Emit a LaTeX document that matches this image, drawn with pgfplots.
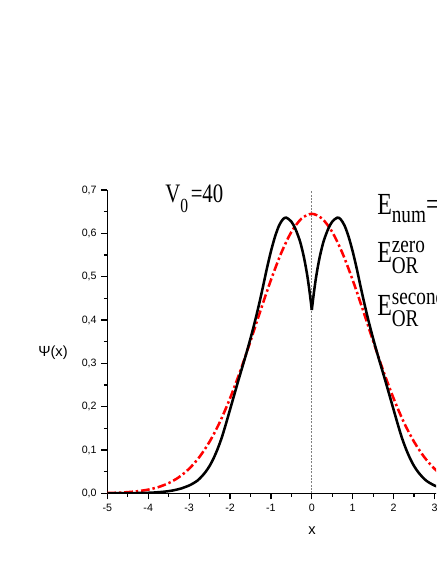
\documentclass[border=0pt]{standalone}
\usepackage{pgfplots}
\pgfplotsset{compat=1.18}
\usepackage{fontspec}
\setmainfont{Liberation Sans}
\newfontfamily\labfont[FakeStretch=0.78]{Liberation Serif}
\newfontfamily\scrfont[FakeStretch=0.8]{Liberation Serif}

\pgfplotstableread{
x y
-5.00 0.00075
-4.75 0.0014
-4.50 0.0027
-4.25 0.0049
-4.00 0.0085
-3.75 0.0144
-3.50 0.0235
-3.25 0.0371
-3.00 0.0566
-2.75 0.0835
-2.50 0.119
-2.25 0.164
-2.00 0.219
-1.75 0.282
-1.50 0.351
-1.25 0.423
-1.00 0.492
-0.75 0.554
-0.50 0.603
-0.25 0.634
0.00 0.645
0.25 0.634
0.50 0.603
0.75 0.554
1.00 0.492
1.25 0.423
1.50 0.351
1.75 0.282
2.00 0.219
2.25 0.164
2.50 0.119
2.75 0.0835
3.00 0.0566
3.25 0.0371
3.50 0.0235
3.75 0.0144
4.00 0.0085
4.25 0.0049
4.50 0.0027
4.75 0.0014
5.00 0.00075
}\redtab

\pgfplotstableread{
x y
-5.0 0.0000
-4.5 0.0003
-4.0 0.0012
-3.8 0.0022
-3.6 0.0038
-3.4 0.0065
-3.2 0.011
-3.0 0.018
-2.9 0.023
-2.8 0.029
-2.7 0.038
-2.6 0.049
-2.5 0.063
-2.4 0.081
-2.3 0.103
-2.2 0.129
-2.1 0.160
-2.0 0.193
-1.9 0.226
-1.8 0.259
-1.7 0.291
-1.6 0.323
-1.5 0.357
-1.4 0.393
-1.3 0.432
-1.2 0.474
-1.1 0.518
-1.0 0.558
-0.9 0.592
-0.8 0.618
-0.7 0.633
-0.62 0.636
-0.5 0.627
-0.4 0.610
-0.3 0.585
-0.25 0.568
-0.2 0.548
-0.15 0.524
-0.1 0.496
-0.05 0.462
0.0 0.423
}\blackleft

\pgfplotstableread{
x y
0.0 0.423
0.05 0.462
0.1 0.496
0.15 0.524
0.2 0.548
0.25 0.568
0.3 0.585
0.4 0.610
0.5 0.627
0.62 0.636
0.7 0.633
0.8 0.618
0.9 0.592
1.0 0.558
1.1 0.518
1.2 0.474
1.3 0.432
1.4 0.393
1.5 0.357
1.6 0.323
1.7 0.291
1.8 0.259
1.9 0.226
2.0 0.193
2.1 0.160
2.2 0.129
2.3 0.103
2.4 0.081
2.5 0.063
2.6 0.049
2.7 0.038
2.8 0.029
2.9 0.023
3.0 0.018
3.2 0.011
3.4 0.0065
3.6 0.0038
3.8 0.0022
4.0 0.0012
4.5 0.0003
5.0 0.0000
}\blackright

\begin{document}
\begin{tikzpicture}
\useasboundingbox (0,0) rectangle (327pt,423pt);
\clip (0,0) rectangle (327pt,423pt);
\begin{axis}[
  at={(80.475pt,53.025pt)}, anchor=south west,
  scale only axis, width=306.75pt, height=227.5pt,
  xmin=-5, xmax=5, ymin=0, ymax=0.7,
  axis lines=left, axis line style={-, line width=1.1pt},
  tick align=outside, major tick length=4.5pt, minor tick length=2.5pt,
  tick style={line width=0.9pt, black},
  xtick={-5,-4,-3,-2,-1,0,1,2,3,4,5},
  ytick={0,0.1,0.2,0.3,0.4,0.5,0.6,0.7},
  minor x tick num=1, minor y tick num=1,
  tick label style={font=\fontsize{8}{9}\selectfont},
  /pgf/number format/assume math mode=true,
  yticklabel style={/pgf/number format/.cd, fixed, fixed zerofill, precision=1, use comma},
]
\addplot[gray, line width=0.5pt, dash pattern=on 1.5pt off 1pt] coordinates {(0,0) (0,0.7)};
\addplot[red, line width=1.9pt, dash pattern=on 6.5pt off 2.2pt on 1.8pt off 2.2pt, smooth] table[x=x, y=y] {\redtab};
\addplot[black, line width=1.9pt, smooth] table[x=x, y=y] {\blackleft};
\addplot[black, line width=1.9pt, smooth] table[x=x, y=y] {\blackright};
\end{axis}
\begin{scope}[shift={(0pt,423pt)}, x=0.75pt, y=-0.75pt]
\node[font=\fontsize{11}{13}\selectfont] at (312,531) {x};
\node[font=\fontsize{11}{13}\selectfont] at (53,353) {Ψ(x)};
\node[anchor=base west, inner sep=0pt] at (165,203)
  {\labfont\fontsize{20}{24}\selectfont V\raisebox{-7.5pt}{\fontsize{15}{18}\selectfont 0}\hspace{2pt}=40};
\node[anchor=base west, inner sep=0pt] at (377,215)
  {\labfont\fontsize{23}{27}\selectfont E\raisebox{-6pt}{\scrfont\fontsize{18}{20}\selectfont num}=};
\node[anchor=base west, inner sep=0pt] at (377,263)
  {\labfont\fontsize{23}{27}\selectfont E\makebox[0pt][l]{\raisebox{7.7pt}{\scrfont\fontsize{18}{20}\selectfont zero}}\raisebox{-8.25pt}{\scrfont\fontsize{18}{20}\selectfont OR}};
\node[anchor=base west, inner sep=0pt] at (377,316)
  {\labfont\fontsize{23}{27}\selectfont E\makebox[0pt][l]{\raisebox{8.8pt}{\scrfont\fontsize{18}{20}\selectfont second}}\raisebox{-8.25pt}{\scrfont\fontsize{18}{20}\selectfont OR}};
\end{scope}
\end{tikzpicture}
\end{document}
